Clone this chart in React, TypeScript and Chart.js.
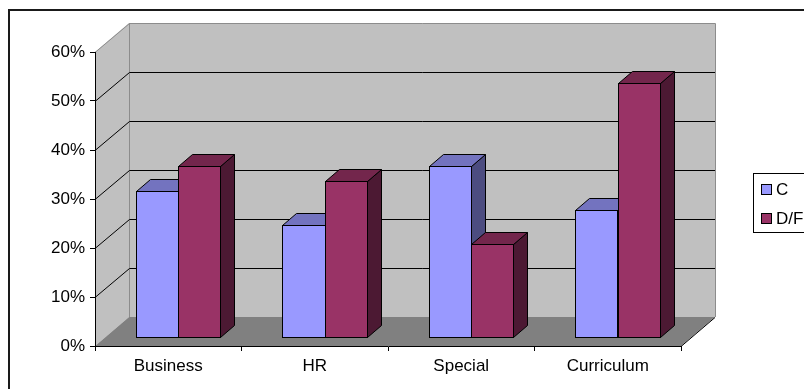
import React, { useEffect, useRef } from "react";
import { Chart, registerables } from "chart.js";

Chart.register(...registerables);

const categories = ["Business", "HR", "Special", "Curriculum"];
const seriesNames = ["C", "D/F"];
const seriesC = [30, 23, 35, 26];
const seriesDF = [35, 32, 19, 52];
const yTicksMax = 60;
const yStep = 10;

const frontColors = ["#9999FF", "#993366"];
const topColors = ["#7373BF", "#73264C"];
const sideColors = ["#4C4C80", "#4C1933"];

const DEPTH_X = 34;
const DEPTH_Y = -29;
const BAR_OFF_X = 9.75;
const BAR_OFF_Y = -8.5;
const BAR_DX = 14;
const BAR_DY = -12;
const FONT = "Liberation Sans, Arial, sans-serif";
const FONT_SIZE = 17;

const threeD = {
  id: "threeD",
  beforeDraw(chart: any) {
    const ctx = chart.ctx;
    const ca = chart.chartArea;
    const ys = chart.scales.y;
    const L = ca.left, R = ca.right;
    const y0 = ys.getPixelForValue(0);
    const yt = ys.getPixelForValue(yTicksMax);
    ctx.save();
    // outer border
    ctx.fillStyle = "#1a1a1a";
    ctx.fillRect(9, 9, 804, 2);
    ctx.fillRect(8, 9, 2, 389);
    // left wall
    ctx.fillStyle = "#C0C0C0";
    ctx.beginPath();
    ctx.moveTo(L, y0);
    ctx.lineTo(L, yt);
    ctx.lineTo(L + DEPTH_X, yt + DEPTH_Y);
    ctx.lineTo(L + DEPTH_X, y0 + DEPTH_Y);
    ctx.closePath();
    ctx.fill();
    // back wall
    ctx.fillRect(L + DEPTH_X, yt + DEPTH_Y, R - L, y0 - yt);
    // floor
    ctx.fillStyle = "#808080";
    ctx.beginPath();
    ctx.moveTo(L, y0);
    ctx.lineTo(R, y0);
    ctx.lineTo(R + DEPTH_X, y0 + DEPTH_Y);
    ctx.lineTo(L + DEPTH_X, y0 + DEPTH_Y);
    ctx.closePath();
    ctx.fill();
    // wall edges (gray)
    ctx.strokeStyle = "#8c8c8c";
    ctx.lineWidth = 1;
    ctx.beginPath();
    ctx.moveTo(L, yt + 0.5);
    ctx.lineTo(L + DEPTH_X + 0.5, yt + DEPTH_Y + 0.5);
    ctx.lineTo(R + DEPTH_X + 0.5, yt + DEPTH_Y + 0.5);
    ctx.lineTo(R + DEPTH_X + 0.5, y0 + DEPTH_Y);
    ctx.moveTo(L + DEPTH_X + 0.5, yt + DEPTH_Y);
    ctx.lineTo(L + DEPTH_X + 0.5, y0 + DEPTH_Y);
    ctx.stroke();
    // gridlines
    ctx.strokeStyle = "#000";
    ctx.beginPath();
    for (let v = yStep; v < yTicksMax; v += yStep) {
      const yy = Math.round(ys.getPixelForValue(v)) + 0.5;
      ctx.moveTo(L, yy);
      ctx.lineTo(L + DEPTH_X + 0.5, yy + DEPTH_Y);
      ctx.lineTo(R + DEPTH_X, yy + DEPTH_Y);
    }
    // floor right edge
    ctx.moveTo(R, y0 + 0.5);
    ctx.lineTo(R + DEPTH_X, y0 + DEPTH_Y + 0.5);
    ctx.stroke();
    ctx.restore();
  },
  beforeDatasetsDraw(chart: any) {
    const ctx = chart.ctx;
    ctx.save();
    ctx.strokeStyle = "#000";
    ctx.lineWidth = 1;
    ctx.lineJoin = "miter";
    chart.data.datasets.forEach((ds: any, di: number) => {
      const meta = chart.getDatasetMeta(di);
      meta.data.forEach((el: any) => {
        const p = el.getProps(["x", "y", "base", "width"], true);
        const l = Math.round(p.x - p.width / 2 + BAR_OFF_X) + 0.5;
        const r = Math.round(p.x + p.width / 2 + BAR_OFF_X) + 0.5;
        const t = Math.round(p.y + BAR_OFF_Y) + 0.5;
        const b = Math.round(p.base + BAR_OFF_Y) + 0.5;
        // side
        ctx.fillStyle = sideColors[di];
        ctx.beginPath();
        ctx.moveTo(r, t);
        ctx.lineTo(r + BAR_DX, t + BAR_DY);
        ctx.lineTo(r + BAR_DX, b + BAR_DY);
        ctx.lineTo(r, b);
        ctx.closePath();
        ctx.fill();
        ctx.stroke();
        // top
        ctx.fillStyle = topColors[di];
        ctx.beginPath();
        ctx.moveTo(l, t);
        ctx.lineTo(r, t);
        ctx.lineTo(r + BAR_DX, t + BAR_DY);
        ctx.lineTo(l + BAR_DX, t + BAR_DY);
        ctx.closePath();
        ctx.fill();
        ctx.stroke();
        // front
        ctx.fillStyle = frontColors[di];
        ctx.fillRect(l, t, r - l, b - t);
        ctx.strokeRect(l, t, r - l, b - t);
      });
    });
    ctx.restore();
    return false;
  },
  afterDraw(chart: any) {
    const ctx = chart.ctx;
    ctx.save();
    ctx.strokeStyle = "#000";
    ctx.lineWidth = 1;
    ctx.strokeRect(753.5, 173.5, 60, 59);
    ctx.font = FONT_SIZE + "px " + FONT;
    ctx.textBaseline = "middle";
    ctx.textAlign = "left";
    chart.data.datasets.forEach((ds: any, i: number) => {
      const cy = 190 + i * 29;
      ctx.fillStyle = frontColors[i];
      ctx.fillRect(761.5, cy - 5.5, 10, 10);
      ctx.strokeRect(761.5, cy - 5.5, 10, 10);
      ctx.fillStyle = "#000";
      ctx.fillText(ds.label, 776, cy);
    });
    ctx.restore();
  },
};

export default function App() {
  const ref = useRef<HTMLCanvasElement | null>(null);
  useEffect(() => {
    if (!ref.current) return;
    Chart.defaults.font.family = FONT;
    Chart.defaults.font.size = FONT_SIZE;
    Chart.defaults.color = "#000";
    const chart = new Chart(ref.current, {
      type: "bar",
      data: {
        labels: categories,
        datasets: [
          { label: seriesNames[0], data: seriesC, backgroundColor: frontColors[0] },
          { label: seriesNames[1], data: seriesDF, backgroundColor: frontColors[1] },
        ],
      },
      options: {
        responsive: false,
        animation: false,
        events: [],
        layout: { padding: { left: 0, right: 123, top: 52, bottom: 0 } },
        plugins: { legend: { display: false }, tooltip: { enabled: false } },
        datasets: { bar: { categoryPercentage: 0.58, barPercentage: 1 } },
        scales: {
          x: {
            grid: { drawOnChartArea: false, drawTicks: true, tickLength: 5, color: "#000", offset: true },
            border: { display: true, color: "#000" },
            ticks: { padding: 5, font: { size: FONT_SIZE }, maxRotation: 0 },
            afterFit: (s: any) => { s.height = 43; },
          },
          y: {
            min: 0,
            max: yTicksMax,
            grid: { drawOnChartArea: false, drawTicks: true, tickLength: 5, color: "#000" },
            border: { display: true, color: "#000" },
            ticks: { stepSize: yStep, padding: 5, font: { size: FONT_SIZE }, callback: (v: any) => v + "%" },
            afterFit: (s: any) => { s.width = 95; },
          },
        },
      },
      plugins: [threeD],
    } as any);
    return () => chart.destroy();
  }, []);
  return (
    <div style={{ position: "absolute", left: 0, top: 0, width: 804, height: 389 }}>
      <canvas ref={ref} width={804} height={389} />
    </div>
  );
}
